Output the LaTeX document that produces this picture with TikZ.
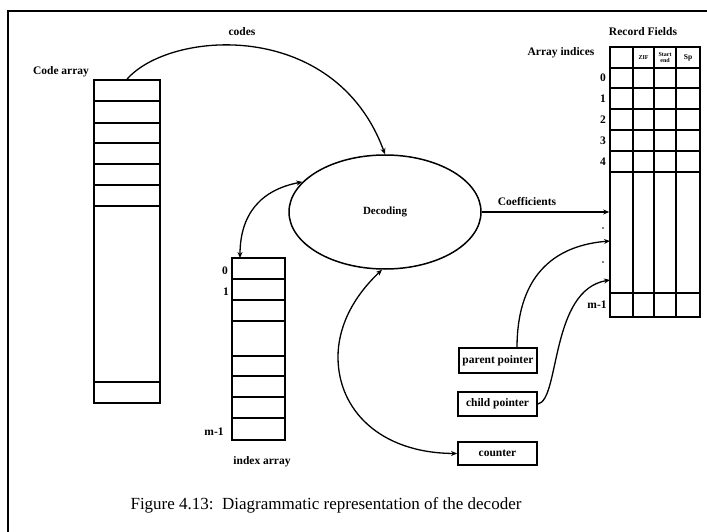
\documentclass[tikz,border=0pt]{standalone}
\usepackage{fontspec}
\setmainfont{Liberation Serif}
\usetikzlibrary{shapes.geometric,arrows.meta}
\begin{document}
\begin{tikzpicture}[x=1pt,y=-1pt,
  ln/.style={line width=1.3pt},
  arr/.style={ln,-{Stealth[length=6pt,width=5pt]}},
  darr/.style={ln,{Stealth[length=6pt,width=5pt]}-{Stealth[length=6pt,width=5pt]}},
  lab/.style={font=\bfseries\fontsize{11.5}{12}\selectfont,inner sep=1pt},
  tiny/.style={font=\bfseries\fontsize{6}{6}\selectfont,inner sep=0pt,align=center},
  arraybox/.style={draw,line width=1.6pt,rectangle,inner sep=0pt},
  ptrbox/.style={draw,line width=1.8pt,rectangle,inner sep=0pt,font=\bfseries\fontsize{11.5}{12}\selectfont}
]
\useasboundingbox (0,0) rectangle (707,532);
% frame
\draw[line width=1.6pt] (707,11) -- (8,11) -- (8,532);

% code array
\node[arraybox,minimum width=66pt,minimum height=323pt] (code) at (127,241.5) {};
\foreach \y in {101,123,143,164,185,206,382}
  \draw[line width=1.4pt] (94,\y) -- (160,\y);
\node[lab] (codelab) at (61,72) {Code array};

% index array
\node[arraybox,minimum width=53pt,minimum height=182pt] (idx) at (258.5,349) {};
\foreach \y in {279,300,321,356,376,397,418}
  \draw[line width=1.4pt] (232,\y) -- (285,\y);
\node[lab] (i0) at (225,271) {0};
\node[lab] (i1) at (226,292) {1};
\node[lab] (im) at (214,432) {m-1};
\node[lab] (idxlab) at (262,462) {index array};
\coordinate (idxtop) at (240,258);

% decoding ellipse
\node[ellipse,draw,line width=1.5pt,minimum width=192pt,minimum height=114pt,inner sep=0pt,
      font=\bfseries\fontsize{11}{12}\selectfont] (dec) at (385,212) {Decoding};

% record table
\node[arraybox,minimum width=90pt,minimum height=270pt] (tab) at (655,182) {};
\foreach \y in {68,88,109,130,151,172,293}
  \draw[line width=1.4pt] (610,\y) -- (700,\y);
\foreach \x in {633,654,676}
  \draw[line width=1.4pt] (\x,47) -- (\x,317);
\node[tiny] (h2) at (643.5,57.5) {ZIF};
\node[tiny] (h3) at (665,57.5) {Start\\end};
\node[tiny,font=\bfseries\fontsize{7.5}{8}\selectfont] (h4) at (688,57.5) {Sp};
\node[lab] (rtitle) at (643,32) {Record Fields};
\node[lab] (ailab) at (561,53) {Array indices};
\node[lab] (r0) at (603,78) {0};
\node[lab] (r1) at (603,98.5) {1};
\node[lab] (r2) at (603,119.5) {2};
\node[lab] (r3) at (603,140.5) {3};
\node[lab] (r4) at (603,161.5) {4};
\node[lab] (rm) at (597,305) {m-1};
\fill (603,228) circle (0.9pt);
\fill (603,262) circle (0.9pt);

% pointer boxes
\node[ptrbox,minimum width=78pt,minimum height=25pt] (par) at (498,360.5) {parent pointer};
\node[ptrbox,minimum width=79pt,minimum height=24pt] (chi) at (497.5,404) {child pointer};
\node[ptrbox,minimum width=79pt,minimum height=23pt] (cnt) at (497.5,453.5) {counter};

% coordinates on table edge
\coordinate (tp) at (610,241);
\coordinate (tch) at (610,280);
\coordinate (partop) at (517,348);

% connectors
\draw[arr] (code.north) .. controls (170,30) and (335,18) .. (dec.north);
\node[lab] (codes) at (242,32) {codes};

\draw[darr] (dec.160) .. controls (260,190) and (240,215) .. (idxtop);

\draw[arr] (dec.east) -- (dec.east -| tab.west);
\node[lab] (coef) at (527,202) {Coefficients};

\draw[arr] (partop) .. controls (517,270) and (560,245) .. (tp);
\draw[arr] (chi.east) .. controls (560,400) and (550,290) .. (tch);

\draw[darr] (dec.-93) .. controls (350,300) and (338,330) .. (338,357)
   .. controls (338,410) and (380,453) .. (cnt.west);

% caption
\node[font=\fontsize{17}{19}\selectfont,inner sep=0pt] (cap) at (326,505)
  {Figure 4.13:\ \ Diagrammatic representation of the decoder};
\end{tikzpicture}
\end{document}
